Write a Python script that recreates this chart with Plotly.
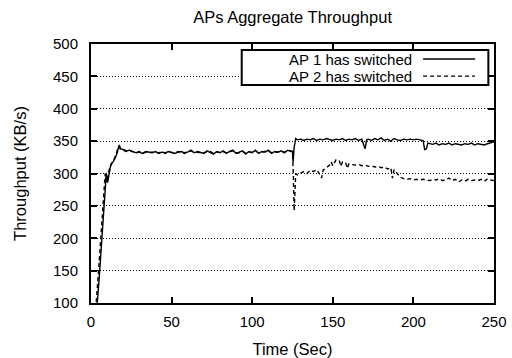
import plotly.graph_objects as go

# ---------------- data ----------------
ap1_t = [3, 3.9, 5.4, 6.8, 8.1, 9.5, 10.3, 11, 12, 13, 14, 15, 16, 17.5, 18.5, 20,
         22, 24, 26, 28, 30, 32, 34, 36, 38, 40, 42, 44, 46, 48, 50, 52, 54, 56, 58,
         60, 62, 64, 66, 68, 70, 72, 74, 76, 78, 80, 82, 84, 86, 88, 90, 92, 94, 96,
         98, 100, 102, 104, 106, 108, 110, 112, 114, 116, 118, 120, 122, 124, 125,
         125.4, 126, 127, 128, 130, 132, 134, 136, 138, 140, 142, 144, 146, 148, 150,
         152, 154, 156, 158, 160, 162, 164, 166, 168, 170, 171, 172, 174, 176, 178,
         180, 182, 184, 186, 188, 190, 192, 194, 196, 198, 200, 202, 204, 206, 207,
         208, 209, 210, 212, 214, 216, 218, 220, 222, 224, 226, 228, 230, 232, 234,
         236, 238, 240, 242, 244, 246, 248, 250]
ap1_v = [80, 100, 150, 200, 250, 300, 286, 299, 310, 316, 319, 324, 330, 344, 338, 337,
         335, 336, 334, 332, 333, 331, 334, 333, 332, 334, 331, 333, 332, 334, 333,
         331, 333, 334, 332, 333, 336, 332, 334, 333, 331, 335, 333, 330, 334, 332,
         335, 331, 334, 336, 331, 333, 335, 330, 334, 332, 336, 331, 334, 333, 336,
         331, 334, 333, 335, 332, 336, 334, 334,
         318, 340, 354, 352, 353, 351, 353, 352, 354, 351, 353, 352, 354, 352, 351,
         353, 352, 354, 351, 353, 352, 354, 351, 353, 338, 352, 353, 351, 354, 352,
         355, 351, 353, 350, 354, 352, 351, 353, 352, 353, 352, 353, 352, 351, 337,
         338, 347, 346, 345, 347, 344, 346, 345, 347, 344, 346, 345, 344, 346, 345,
         347, 344, 346, 345, 344, 346, 347, 349]

ap2_t = [2.4, 3.2, 4.7, 6.1, 7.4, 8.8, 9.8, 10.5, 11.5, 12.5, 13.5, 14.5, 15.5, 17, 18.5, 20,
         22, 24, 26, 28, 30, 32, 34, 36, 38, 40, 42, 44, 46, 48, 50, 52, 54, 56, 58,
         60, 62, 64, 66, 68, 70, 72, 74, 76, 78, 80, 82, 84, 86, 88, 90, 92, 94, 96,
         98, 100, 102, 104, 106, 108, 110, 112, 114, 116, 118, 120, 122, 124, 125,
         125.5, 126, 126.5, 127, 128, 130, 132, 134, 136, 138, 140, 142, 143, 144,
         146, 148, 149, 150, 152, 154, 155, 156, 158, 159, 160, 162, 164, 166, 168,
         170, 172, 174, 176, 178, 180, 182, 184, 186, 187, 188, 190, 192, 194, 196,
         198, 200, 202, 204, 206, 208, 210, 212, 214, 216, 218, 220, 222, 224, 226,
         228, 230, 232, 234, 236, 238, 240, 242, 244, 246, 248, 250]
ap2_v = [80, 100, 150, 200, 250, 300, 287, 298, 309, 315, 318, 323, 329, 342, 337, 336,
         334, 335, 333, 332, 334, 331, 333, 332, 333, 333, 332, 334, 331, 333, 332,
         332, 334, 333, 331, 334, 335, 333, 333, 332, 332, 334, 334, 331, 333, 333,
         334, 332, 333, 335, 332, 332, 334, 331, 333, 333, 335, 332, 333, 334, 335,
         332, 333, 334, 334, 333, 335, 335, 334,
         300, 243, 270, 300, 298, 301, 303, 300, 305, 303, 306, 298, 293, 305,
         309, 313, 318, 312, 321, 320, 311, 318, 316, 308, 315, 314, 313, 314, 312,
         313, 311, 312, 310, 311, 309, 310, 307, 309, 293, 306, 300, 294, 292, 291,
         292, 290, 291, 290, 291, 290, 289, 291, 290, 292, 289, 290, 293, 289, 291,
         287, 290, 288, 291, 289, 290, 289, 291, 288, 292, 290, 289]

x_ticks = [0, 50, 100, 150, 200, 250]
y_ticks = [100, 150, 200, 250, 300, 350, 400, 450, 500]
series_names = ["AP 1 has switched", "AP 2 has switched"]

FONT = "Liberation Sans, Arial, Helvetica, sans-serif"

fig = go.Figure()
fig.add_trace(go.Scatter(x=ap1_t, y=ap1_v, mode="lines", name=series_names[0],
                         line=dict(color="black", width=1.4), showlegend=False))
fig.add_trace(go.Scatter(x=ap2_t, y=ap2_v, mode="lines", name=series_names[1],
                         line=dict(color="black", width=1.4, dash="4px,3px"),
                         showlegend=False))

# manual legend (text then sample line, as in the reference)
# plot area: 91..494 px wide, 44..303 px tall
lx0, lx1, ly0, ly1 = 0.374, 0.986, 0.842, 0.977
fig.add_shape(type="rect", xref="paper", yref="paper", x0=lx0, x1=lx1, y0=ly0, y1=ly1,
              line=dict(color="black", width=2), fillcolor="white", layer="above")
rows = [0.942, 0.876]
dashes = ["solid", "4px,3px"]
for name, yy, d in zip(series_names, rows, dashes):
    fig.add_annotation(xref="paper", yref="paper", x=0.799, y=yy, text=name,
                       showarrow=False, xanchor="right", yanchor="middle",
                       borderpad=0,
                       font=dict(family=FONT, size=15, color="black"))
    fig.add_shape(type="line", xref="paper", yref="paper", x0=0.824, x1=0.953,
                  y0=yy, y1=yy, line=dict(color="black", width=1.4, dash=d),
                  layer="above")

fig.update_layout(
    width=512, height=358,
    margin=dict(l=91, r=18, t=44, b=55),
    paper_bgcolor="white", plot_bgcolor="white",
    font=dict(family=FONT, size=15, color="black"),
    title=dict(text="APs Aggregate Throughput", x=0.5715, xanchor="center",
               y=0.952, yanchor="middle", font=dict(size=16.5)),
)
fig.update_xaxes(
    range=[0, 250], tickvals=x_ticks, ticks="inside", ticklen=6, tickwidth=2,
    tickcolor="black", showline=True, linecolor="black", linewidth=2, mirror="ticks",
    showgrid=False, zeroline=False, ticklabelstandoff=4, automargin=False,
    title=dict(text="Time (Sec)", standoff=15, font=dict(size=16.5)),
)
fig.update_yaxes(
    range=[100, 500], tickvals=y_ticks, ticks="inside", ticklen=6, tickwidth=2,
    tickcolor="black", showline=True, linecolor="black", linewidth=2, mirror="ticks",
    showgrid=True, gridcolor="black", griddash="1px,2px", gridwidth=1, zeroline=False,
    ticklabelstandoff=8, automargin=False,
    title=dict(text="Throughput (KB/s)", standoff=22, font=dict(size=16.5)),
)

fig.write_html("out.html")
